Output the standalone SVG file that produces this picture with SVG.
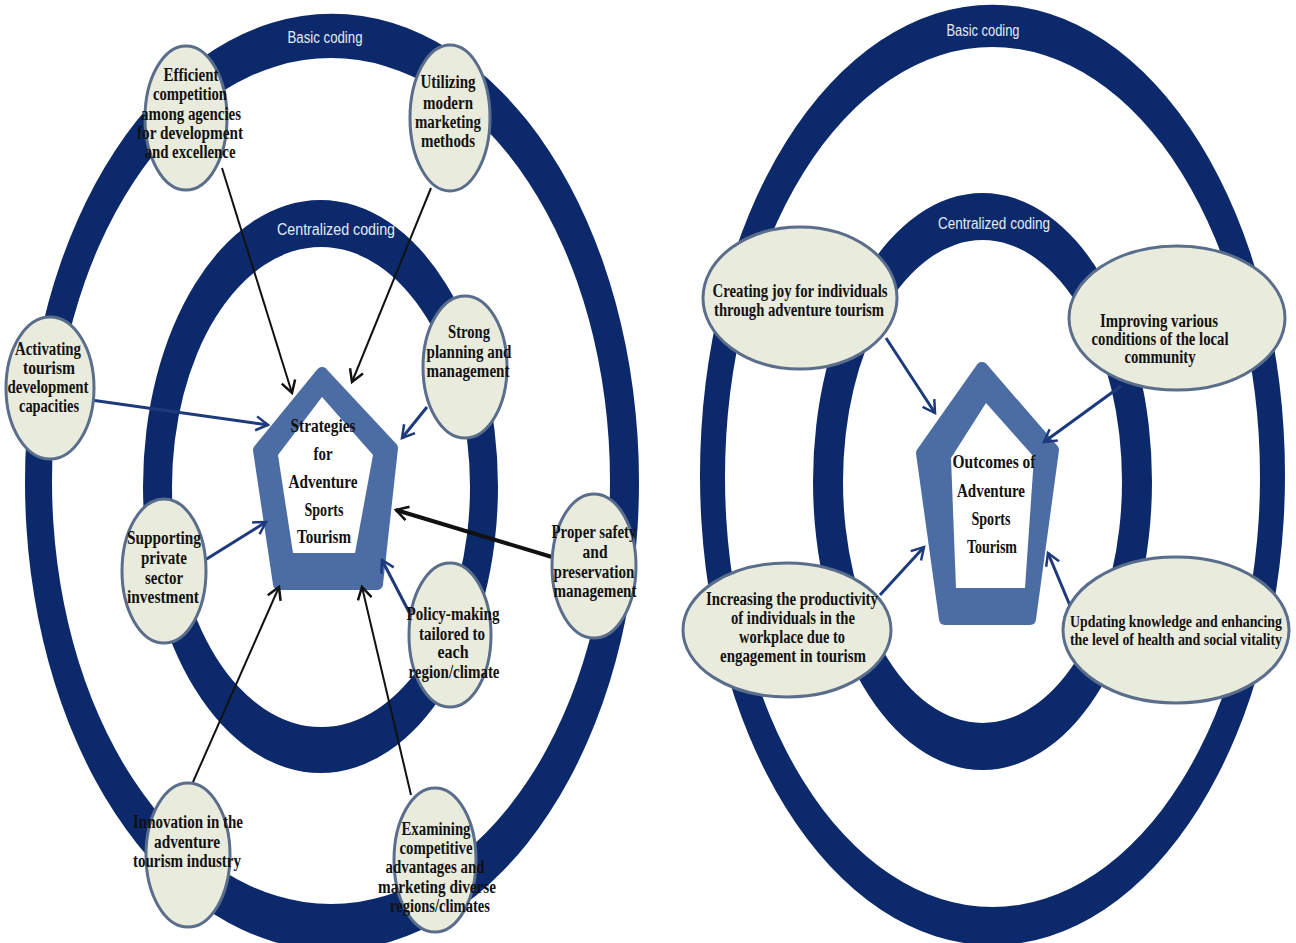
<svg xmlns="http://www.w3.org/2000/svg" width="1296" height="943" viewBox="0 0 1296 943">
<defs>
<style>
.ring{fill:#0c2a6b;fill-rule:evenodd}
.rl{font-family:"Liberation Sans",Arial,sans-serif;font-size:16px;fill:#e4eaf4;text-anchor:middle}
.nd{fill:#e9ebdc;stroke:#5a6e8c;stroke-width:3}
.t{font-family:"Liberation Serif","Times New Roman",serif;font-weight:bold;font-size:18.5px;fill:#111;text-anchor:middle}
.t2{font-family:"Liberation Serif","Times New Roman",serif;font-weight:bold;font-size:17.5px;fill:#111;text-anchor:middle}
.pent{fill:#4c6da3;stroke:#4c6da3;stroke-width:12;stroke-linejoin:round}
.hole{fill:#fff}
.cb{stroke:#111;stroke-width:2;fill:none}
.cbt{stroke:#111;stroke-width:4;fill:none}
.cn{stroke:#1d3a7c;stroke-width:3;fill:none}
</style>
<marker id="ab" markerUnits="userSpaceOnUse" markerWidth="18" markerHeight="18" refX="15" refY="9" orient="auto">
<path d="M3,2 L15,9 L3,16" fill="none" stroke="#111" stroke-width="2.5"/>
</marker>
<marker id="an" markerUnits="userSpaceOnUse" markerWidth="18" markerHeight="18" refX="15" refY="9" orient="auto">
<path d="M3,2 L15,9 L3,16" fill="none" stroke="#1d3a7c" stroke-width="2.5"/>
</marker>
</defs>
<rect width="1296" height="943" fill="#fff"/>

<g id="rings">
<path class="ring" d="M25,482 a307,468 0 1,0 614,0 a307,468 0 1,0 -614,0 Z M52,481 a279,423 0 1,0 558,0 a279,423 0 1,0 -558,0 Z"/>
<path class="ring" d="M143,486.5 a177.5,286.5 0 1,0 355,0 a177.5,286.5 0 1,0 -355,0 Z M172,487 a149,240 0 1,0 298,0 a149,240 0 1,0 -298,0 Z"/>
<path class="ring" d="M700,475 a292.5,470 0 1,0 585,0 a292.5,470 0 1,0 -585,0 Z M725,477 a267.5,430 0 1,0 535,0 a267.5,430 0 1,0 -535,0 Z"/>
<path class="ring" d="M813,481.5 a169.5,288.5 0 1,0 339,0 a169.5,288.5 0 1,0 -339,0 Z M843,481.5 a139.5,241.5 0 1,0 279,0 a139.5,241.5 0 1,0 -279,0 Z"/>
<text class="rl" x="325" y="43" textLength="75" lengthAdjust="spacingAndGlyphs">Basic coding</text>
<text class="rl" x="336" y="235" textLength="118" lengthAdjust="spacingAndGlyphs">Centralized coding</text>
<text class="rl" x="983" y="36" textLength="73" lengthAdjust="spacingAndGlyphs">Basic coding</text>
<text class="rl" x="994" y="229" textLength="112" lengthAdjust="spacingAndGlyphs">Centralized coding</text>
</g>

<g id="center-left">
<polygon class="pent" points="322,373 392,448 377,584 279,584 259,450"/>
<polygon class="hole" points="322,397 373,455 355,553 293,553 278,455"/>
</g>
<g id="center-right">
<polygon class="pent" points="982,368 1053,450 1030,619 945,619 922,453"/>
<polygon class="hole" points="986,403 1034,457 1025,588 956,588 951,458"/>
</g>

<g id="connectors">
<line class="cb" x1="222" y1="168" x2="292" y2="393" marker-end="url(#ab)"/>
<line class="cb" x1="431" y1="188" x2="352" y2="382" marker-end="url(#ab)"/>
<line class="cn" x1="91" y1="400" x2="268" y2="425" marker-end="url(#an)"/>
<line class="cn" x1="427" y1="407" x2="402" y2="438" marker-end="url(#an)"/>
<line class="cbt" x1="552" y1="557" x2="396" y2="510" marker-end="url(#ab)"/>
<line class="cn" x1="205" y1="560" x2="266" y2="522" marker-end="url(#an)"/>
<line class="cn" x1="409" y1="612" x2="382" y2="560" marker-end="url(#an)"/>
<line class="cb" x1="193" y1="782" x2="279" y2="587" marker-end="url(#ab)"/>
<line class="cb" x1="411" y1="795" x2="362" y2="587" marker-end="url(#ab)"/>
<line class="cn" x1="886" y1="338" x2="935" y2="413" marker-end="url(#an)"/>
<line class="cn" x1="1121" y1="386" x2="1044" y2="442" marker-end="url(#an)"/>
<line class="cn" x1="880" y1="595" x2="924" y2="547" marker-end="url(#an)"/>
<line class="cn" x1="1071" y1="608" x2="1048" y2="553" marker-end="url(#an)"/>
</g>

<g id="center-left-text">
<text class="t" x="323" y="432" textLength="65" lengthAdjust="spacingAndGlyphs">Strategies</text>
<text class="t" x="323" y="460" textLength="19" lengthAdjust="spacingAndGlyphs">for</text>
<text class="t" x="323" y="488" textLength="69" lengthAdjust="spacingAndGlyphs">Adventure</text>
<text class="t" x="324" y="516" textLength="39" lengthAdjust="spacingAndGlyphs">Sports</text>
<text class="t" x="324" y="543" textLength="54" lengthAdjust="spacingAndGlyphs">Tourism</text>
</g>
<g id="center-right-text">
<text class="t" x="994" y="468" textLength="83" lengthAdjust="spacingAndGlyphs">Outcomes of</text>
<text class="t" x="991" y="497" textLength="68" lengthAdjust="spacingAndGlyphs">Adventure</text>
<text class="t" x="991" y="525" textLength="39" lengthAdjust="spacingAndGlyphs">Sports</text>
<text class="t" x="992" y="553" textLength="50" lengthAdjust="spacingAndGlyphs">Tourism</text>
</g>

<g id="n-efficient">
<ellipse class="nd" cx="186" cy="118" rx="41" ry="72"/>
<text class="t" x="191" y="81" textLength="55" lengthAdjust="spacingAndGlyphs">Efficient</text>
<text class="t" x="190" y="100" textLength="74" lengthAdjust="spacingAndGlyphs">competition</text>
<text class="t" x="191" y="120" textLength="100" lengthAdjust="spacingAndGlyphs">among agencies</text>
<text class="t" x="190" y="139" textLength="106" lengthAdjust="spacingAndGlyphs">for development</text>
<text class="t" x="190" y="158" textLength="91" lengthAdjust="spacingAndGlyphs">and excellence</text>
</g>
<g id="n-utilizing">
<ellipse class="nd" cx="450" cy="118" rx="40" ry="73"/>
<text class="t" x="448" y="88" textLength="55" lengthAdjust="spacingAndGlyphs">Utilizing</text>
<text class="t" x="448" y="109" textLength="50" lengthAdjust="spacingAndGlyphs">modern</text>
<text class="t" x="448" y="128" textLength="66" lengthAdjust="spacingAndGlyphs">marketing</text>
<text class="t" x="448" y="147" textLength="54" lengthAdjust="spacingAndGlyphs">methods</text>
</g>
<g id="n-activating">
<ellipse class="nd" cx="50" cy="388" rx="44" ry="71"/>
<text class="t" x="48" y="355" textLength="66" lengthAdjust="spacingAndGlyphs">Activating</text>
<text class="t" x="49" y="374" textLength="52" lengthAdjust="spacingAndGlyphs">tourism</text>
<text class="t" x="48" y="393" textLength="81" lengthAdjust="spacingAndGlyphs">development</text>
<text class="t" x="49" y="412" textLength="60" lengthAdjust="spacingAndGlyphs">capacities</text>
</g>
<g id="n-strong">
<ellipse class="nd" cx="465" cy="367" rx="42" ry="71"/>
<text class="t" x="469" y="338" textLength="42" lengthAdjust="spacingAndGlyphs">Strong</text>
<text class="t" x="469" y="358" textLength="85" lengthAdjust="spacingAndGlyphs">planning and</text>
<text class="t" x="468" y="377" textLength="83" lengthAdjust="spacingAndGlyphs">management</text>
</g>
<g id="n-supporting">
<ellipse class="nd" cx="164" cy="571" rx="42" ry="72"/>
<text class="t" x="164" y="544" textLength="74" lengthAdjust="spacingAndGlyphs">Supporting</text>
<text class="t" x="164" y="564" textLength="46" lengthAdjust="spacingAndGlyphs">private</text>
<text class="t" x="164" y="584" textLength="38" lengthAdjust="spacingAndGlyphs">sector</text>
<text class="t" x="163" y="603" textLength="72" lengthAdjust="spacingAndGlyphs">investment</text>
</g>
<g id="n-proper">
<ellipse class="nd" cx="594" cy="566" rx="42" ry="72"/>
<text class="t" x="594" y="538" textLength="85" lengthAdjust="spacingAndGlyphs">Proper safety</text>
<text class="t" x="595" y="558" textLength="25" lengthAdjust="spacingAndGlyphs">and</text>
<text class="t" x="594" y="578" textLength="81" lengthAdjust="spacingAndGlyphs">preservation</text>
<text class="t" x="595" y="597" textLength="83" lengthAdjust="spacingAndGlyphs">management</text>
</g>
<g id="n-policy">
<ellipse class="nd" cx="450" cy="635" rx="41" ry="72"/>
<text class="t" x="453" y="620" textLength="93" lengthAdjust="spacingAndGlyphs">Policy-making</text>
<text class="t" x="452" y="640" textLength="66" lengthAdjust="spacingAndGlyphs">tailored to</text>
<text class="t" x="453" y="658" textLength="31" lengthAdjust="spacingAndGlyphs">each</text>
<text class="t" x="454" y="678" textLength="91" lengthAdjust="spacingAndGlyphs">region/climate</text>
</g>
<g id="n-innovation">
<ellipse class="nd" cx="188" cy="855" rx="42" ry="72"/>
<text class="t" x="188" y="828" textLength="110" lengthAdjust="spacingAndGlyphs">Innovation in the</text>
<text class="t" x="187" y="848" textLength="66" lengthAdjust="spacingAndGlyphs">adventure</text>
<text class="t" x="187" y="867" textLength="108" lengthAdjust="spacingAndGlyphs">tourism industry</text>
</g>
<g id="n-examining">
<ellipse class="nd" cx="435" cy="860" rx="41" ry="72"/>
<text class="t" x="436" y="835" textLength="69" lengthAdjust="spacingAndGlyphs">Examining</text>
<text class="t" x="436" y="854" textLength="73" lengthAdjust="spacingAndGlyphs">competitive</text>
<text class="t" x="435" y="873" textLength="99" lengthAdjust="spacingAndGlyphs">advantages and</text>
<text class="t" x="437" y="893" textLength="118" lengthAdjust="spacingAndGlyphs">marketing diverse</text>
<text class="t" x="440" y="912" textLength="100" lengthAdjust="spacingAndGlyphs">regions/climates</text>
</g>

<g id="n-creating">
<ellipse class="nd" cx="800" cy="298" rx="97" ry="71"/>
<text class="t" x="800" y="297" textLength="175" lengthAdjust="spacingAndGlyphs">Creating joy for individuals</text>
<text class="t" x="799" y="316" textLength="170" lengthAdjust="spacingAndGlyphs">through adventure tourism</text>
</g>
<g id="n-improving">
<ellipse class="nd" cx="1177" cy="318" rx="108" ry="72"/>
<text class="t" x="1159" y="327" textLength="118" lengthAdjust="spacingAndGlyphs">Improving various</text>
<text class="t" x="1160" y="345" textLength="137" lengthAdjust="spacingAndGlyphs">conditions of the local</text>
<text class="t" x="1160" y="363" textLength="71" lengthAdjust="spacingAndGlyphs">community</text>
</g>
<g id="n-increasing">
<ellipse class="nd" cx="787" cy="630" rx="104" ry="67"/>
<text class="t" x="792" y="605" textLength="172" lengthAdjust="spacingAndGlyphs">Increasing the productivity</text>
<text class="t" x="793" y="624" textLength="124" lengthAdjust="spacingAndGlyphs">of individuals in the</text>
<text class="t" x="792" y="643" textLength="106" lengthAdjust="spacingAndGlyphs">workplace due to</text>
<text class="t" x="793" y="662" textLength="146" lengthAdjust="spacingAndGlyphs">engagement in tourism</text>
</g>
<g id="n-updating">
<ellipse class="nd" cx="1176" cy="630" rx="113" ry="73"/>
<text class="t2" x="1176" y="627" textLength="212" lengthAdjust="spacingAndGlyphs">Updating knowledge and enhancing</text>
<text class="t2" x="1176" y="645" textLength="212" lengthAdjust="spacingAndGlyphs">the level of health and social vitality</text>
</g>
</svg>
